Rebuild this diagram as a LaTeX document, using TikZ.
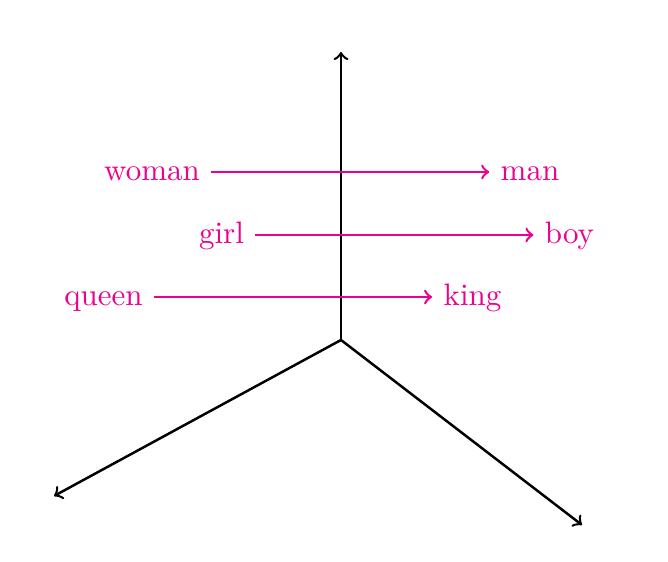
\documentclass[tikz,border=0pt]{standalone}
\usetikzlibrary{positioning}

\definecolor{wordpink}{RGB}{236,0,140}
\tikzset{every picture/.style={line width=0.75pt}}
\tikzset{
  axisline/.style={thick,->},
  wordarrow/.style={thick,->,color=wordpink},
  wordlabel/.style={color=wordpink,text height=1.5ex,text depth=0.25ex}
}

\begin{document}
\begin{tikzpicture}[x=0.3225pt,y=0.3225pt,yscale=-1,xscale=1]
\useasboundingbox (0,0) rectangle (668,562);

%Axes
\coordinate (origin) at (341,340);
\coordinate (up) at (341,52);
\coordinate (lowleft) at (54,496);
\coordinate (lowright) at (582,525);
\draw [axisline] (origin) -- (up);
\draw [axisline] (origin) -- (lowleft);
\draw [axisline] (origin) -- (lowright);

% Text Node
\node [wordlabel] (woman) at (152,172) {woman};
% Text Node
\node [wordlabel] (man) at (530,172) {man};
% Text Node
\node [wordlabel] (girl) at (221.5,235) {girl};
% Text Node
\node [wordlabel] (boy) at (569.5,235) {boy};
% Text Node
\node [wordlabel] (queen) at (103.5,297) {queen};
% Text Node
\node [wordlabel] (king) at (472.5,297) {king};

%Word pairs
\draw [wordarrow] (woman) -- (man);
\draw [wordarrow] (girl) -- (boy);
\draw [wordarrow] (queen) -- (king);

\end{tikzpicture}
\end{document}
